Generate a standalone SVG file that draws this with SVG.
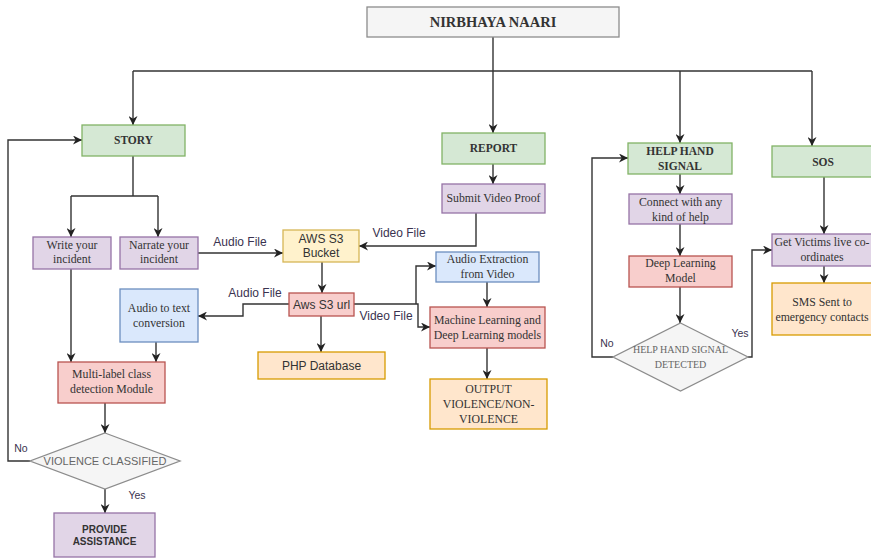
<svg xmlns="http://www.w3.org/2000/svg" width="871" height="559" viewBox="0 0 871 559">
  <style>
    .bg { fill: #ffffff; }
    rect, polygon { stroke-width: 1.3; }
    .title { fill: #f5f5f5; stroke: #8c8c8c; }
    .green { fill: #d5e8d4; stroke: #82b366; }
    .purple { fill: #e1d5e7; stroke: #9673a6; }
    .yellow { fill: #fff2cc; stroke: #d6b656; }
    .blue { fill: #dae8fc; stroke: #6c8ebf; }
    .red { fill: #f8cecc; stroke: #b85450; }
    .orange { fill: #ffe6cc; stroke: #d79b00; }
    .grey { fill: #f5f5f5; stroke: #8c8c8c; }
    text { fill: #333333; text-anchor: middle; }
    .serif { font-family: "Liberation Serif", "DejaVu Serif", serif; font-size: 11.8px; }
    .head { font-family: "Liberation Serif", "DejaVu Serif", serif; font-size: 11.5px; font-weight: bold; }
    .sans { font-family: "Liberation Sans", Arial, sans-serif; font-size: 12px; }
    .lbl { font-family: "Liberation Sans", Arial, sans-serif; font-size: 12px; fill: #3a3350; }
    .small { font-family: "Liberation Sans", Arial, sans-serif; font-size: 10.5px; fill: #3a3350; }
    .dtext { fill: #666666; }
    .edge { fill: none; stroke: #333333; stroke-width: 1.4; }
    .arrow { marker-end: url(#arr); }
  </style>
  <defs>
    <marker id="arr" viewBox="0 0 10 10" refX="10" refY="5" markerWidth="9" markerHeight="9" markerUnits="userSpaceOnUse" orient="auto">
      <path d="M0,0 L10,5 L0,10 L3,5 z" fill="#222222"/>
    </marker>
  </defs>

  <rect class="bg" x="0" y="0" width="871" height="559" style="stroke:none"/>

  <!-- connectors -->
  <g id="connectors">
    <path class="edge" d="M493,37 V71"/>
    <path class="edge" d="M133,71 H812"/>
    <path class="edge arrow" d="M133,71 V125"/>
    <path class="edge arrow" d="M493,71 V133"/>
    <path class="edge arrow" d="M680,71 V143"/>
    <path class="edge arrow" d="M812,71 V146"/>

    <path class="edge" d="M133,156 V196"/>
    <path class="edge" d="M71,196 H158"/>
    <path class="edge arrow" d="M71,196 V237"/>
    <path class="edge arrow" d="M158,196 V237"/>

    <path class="edge arrow" d="M198,253 H283"/>
    <path class="edge arrow" d="M493,164 V184"/>
    <path class="edge arrow" d="M476,213 V246 H359"/>
    <path class="edge arrow" d="M322,262 V293"/>
    <path class="edge arrow" d="M289,304 H243 V316 H198"/>
    <path class="edge arrow" d="M321,316 V352"/>
    <path class="edge arrow" d="M354,304 H418 V327 H430"/>
    <path class="edge arrow" d="M416,304 V266 H436"/>
    <path class="edge arrow" d="M487,282 V307"/>
    <path class="edge arrow" d="M487,348 V379"/>

    <path class="edge arrow" d="M71,269 V362"/>
    <path class="edge arrow" d="M156,342 V362"/>
    <path class="edge arrow" d="M105,403 V433"/>
    <path class="edge arrow" d="M30,461 H8 V140 H82"/>
    <path class="edge arrow" d="M105,489 V513"/>

    <path class="edge arrow" d="M680,174 V194"/>
    <path class="edge arrow" d="M680,224 V256"/>
    <path class="edge arrow" d="M680,287 V323"/>
    <path class="edge arrow" d="M613,357 H592 V158 H628"/>
    <path class="edge arrow" d="M748,357 H752 V250 H772"/>
    <path class="edge arrow" d="M824,177 V234"/>
    <path class="edge arrow" d="M824,266 V283"/>

    <!-- edge labels -->
    <text class="lbl" x="240" y="246">Audio File</text>
    <text class="lbl" x="399" y="237">Video File</text>
    <text class="lbl" x="255" y="297">Audio File</text>
    <text class="lbl" x="386" y="320">Video File</text>
    <text class="small" x="21" y="452">No</text>
    <text class="small" x="137" y="499">Yes</text>
    <text class="small" x="607" y="347">No</text>
    <text class="small" x="740" y="337">Yes</text>
  </g>

  <!-- nodes -->
  <g id="title">
    <rect class="title" x="367" y="7" width="252" height="30"/>
    <text class="head" x="493" y="27" style="font-size:14.5px">NIRBHAYA NAARI</text>
  </g>

  <g id="story">
    <rect class="green" x="82" y="125" width="103" height="31"/>
    <text class="head" x="133.5" y="144">STORY</text>
  </g>
  <g id="write">
    <rect class="purple" x="33" y="237" width="78" height="32"/>
    <text class="serif" x="72" y="249">Write your</text>
    <text class="serif" x="72" y="263">incident</text>
  </g>
  <g id="narrate">
    <rect class="purple" x="120" y="237" width="78" height="32"/>
    <text class="serif" x="159" y="249">Narrate your</text>
    <text class="serif" x="159" y="263">incident</text>
  </g>
  <g id="bucket">
    <rect class="yellow" x="283" y="230" width="76" height="32"/>
    <text class="sans" x="321" y="243">AWS S3</text>
    <text class="sans" x="321" y="257">Bucket</text>
  </g>
  <g id="s3url">
    <rect class="red" x="289" y="293" width="65" height="23"/>
    <text class="sans" x="321.5" y="309">Aws S3 url</text>
  </g>
  <g id="audio-to-text">
    <rect class="blue" x="120" y="289" width="78" height="53"/>
    <text class="serif" x="159" y="312">Audio to text</text>
    <text class="serif" x="159" y="327">conversion</text>
  </g>
  <g id="php-db">
    <rect class="orange" x="258" y="352" width="127" height="27"/>
    <text class="sans" x="321.5" y="370">PHP Database</text>
  </g>
  <g id="multilabel">
    <rect class="red" x="58" y="362" width="107" height="41"/>
    <text class="serif" x="111.5" y="378">Multi-label class</text>
    <text class="serif" x="111.5" y="393">detection Module</text>
  </g>
  <g id="violence-classified">
    <polygon class="grey" points="105,433 180,461 105,489 30,461"/>
    <text class="sans dtext" x="105" y="465" style="font-size:11px">VIOLENCE CLASSIFIED</text>
  </g>
  <g id="provide-assistance">
    <rect class="purple" x="54" y="513" width="101" height="44"/>
    <text class="sans" x="104.5" y="533" style="font-size:10px;font-weight:bold">PROVIDE</text>
    <text class="sans" x="104.5" y="545" style="font-size:10px;font-weight:bold">ASSISTANCE</text>
  </g>

  <g id="report">
    <rect class="green" x="442" y="133" width="103" height="31"/>
    <text class="head" x="493.5" y="152">REPORT</text>
  </g>
  <g id="submit-video">
    <rect class="purple" x="442" y="184" width="103" height="29"/>
    <text class="serif" x="493.5" y="202">Submit Video Proof</text>
  </g>
  <g id="audio-extraction">
    <rect class="blue" x="436" y="252" width="103" height="30"/>
    <text class="serif" x="487.5" y="263">Audio Extraction</text>
    <text class="serif" x="487.5" y="278">from Video</text>
  </g>
  <g id="ml-models">
    <rect class="red" x="430" y="307" width="115" height="41"/>
    <text class="serif" x="487.5" y="324">Machine Learning and</text>
    <text class="serif" x="487.5" y="339">Deep Learning models</text>
  </g>
  <g id="output">
    <rect class="orange" x="430" y="379" width="117" height="50"/>
    <text class="serif" x="488.5" y="393">OUTPUT</text>
    <text class="serif" x="488.5" y="408">VIOLENCE/NON-</text>
    <text class="serif" x="488.5" y="423">VIOLENCE</text>
  </g>

  <g id="help-hand-signal">
    <rect class="green" x="628" y="143" width="104" height="31"/>
    <text class="head" x="680" y="155">HELP HAND</text>
    <text class="head" x="680" y="170">SIGNAL</text>
  </g>
  <g id="connect-help">
    <rect class="purple" x="629" y="194" width="103" height="30"/>
    <text class="serif" x="680.5" y="206">Connect with any</text>
    <text class="serif" x="680.5" y="221">kind of help</text>
  </g>
  <g id="deep-learning">
    <rect class="red" x="629" y="256" width="103" height="31"/>
    <text class="serif" x="680.5" y="267">Deep Learning</text>
    <text class="serif" x="680.5" y="282">Model</text>
  </g>
  <g id="signal-detected">
    <polygon class="grey" points="680.5,323 748,357 680.5,391 613,357"/>
    <text class="serif dtext" x="680.5" y="353" style="font-size:10px">HELP HAND SIGNAL</text>
    <text class="serif dtext" x="680.5" y="368" style="font-size:10px">DETECTED</text>
  </g>

  <g id="sos">
    <rect class="green" x="772" y="146" width="104" height="31"/>
    <text class="head" x="823" y="166">SOS</text>
  </g>
  <g id="live-coordinates">
    <rect class="purple" x="772" y="234" width="104" height="32"/>
    <text class="serif" x="822" y="246">Get Victims live co-</text>
    <text class="serif" x="822" y="261">ordinates</text>
  </g>
  <g id="sms">
    <rect class="orange" x="772" y="283" width="104" height="52"/>
    <text class="serif" x="822" y="306">SMS Sent to</text>
    <text class="serif" x="822" y="321">emergency contacts</text>
  </g>
</svg>
